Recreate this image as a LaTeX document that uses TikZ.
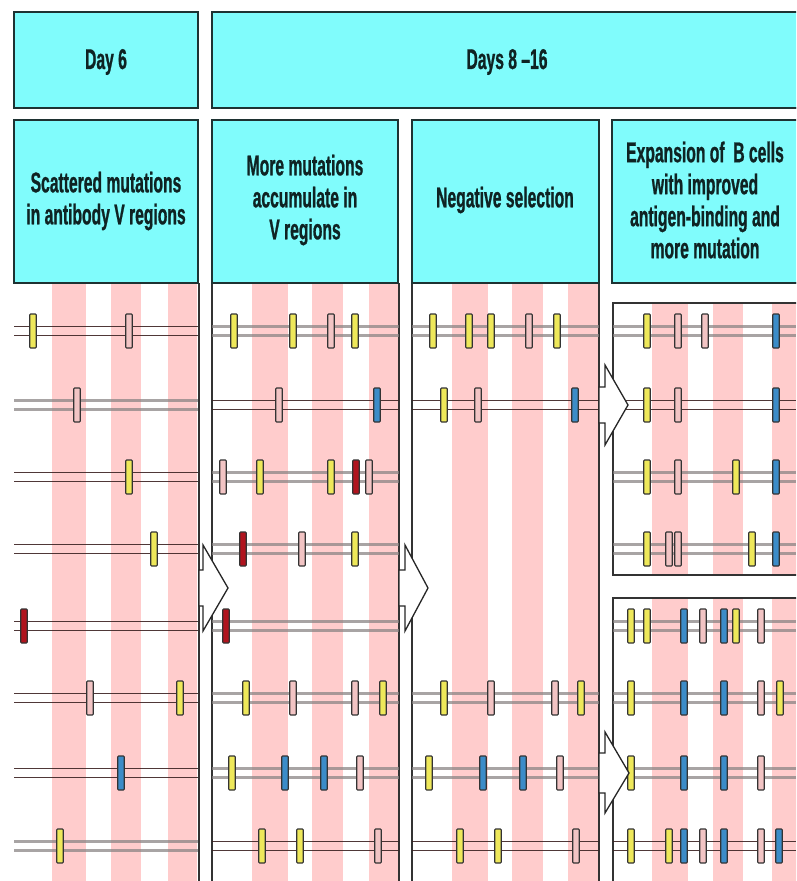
\documentclass[tikz,border=0pt]{standalone}
\usepackage{fontspec}
\newfontfamily\hdfont{Liberation Sans Bold}[FakeStretch=0.55, FakeBold=0.8]
\definecolor{hdcyan}{RGB}{128,252,252}
\definecolor{hdedge}{RGB}{30,50,50}
\definecolor{stripe}{RGB}{255,204,204}
\definecolor{mY}{RGB}{238,232,90}
\definecolor{mP}{RGB}{242,196,196}
\definecolor{mR}{RGB}{176,20,30}
\definecolor{mB}{RGB}{60,140,200}
\definecolor{lnd}{RGB}{60,35,35}
\definecolor{lng}{RGB}{135,130,130}
\definecolor{txt}{RGB}{15,35,35}
\newcommand\dkpair[3]{\draw[dkl] (#1,#3-4.5) -- (#2,#3-4.5); \draw[dkl] (#1,#3+4.5) -- (#2,#3+4.5);}
\newcommand\gypair[3]{\draw[gyl] (#1,#3-4.5) -- (#2,#3-4.5); \draw[gyl] (#1,#3+4.5) -- (#2,#3+4.5);}
\newcommand\mutrow[2]{\foreach \mx/\mc in {#2}{\node[mutbox, fill=\mc] at (\mx,#1) {};}}
\begin{document}
\begin{tikzpicture}[x=1pt,y=-1pt,
 hdbox/.style={fill=hdcyan, draw=hdedge, line width=1.3pt},
 hdbottom/.style={draw=hdedge, line width=2.8pt},
 hdtext/.style={font=\hdfont\fontsize{28.5}{32}\selectfont, text=txt, align=center, inner sep=0pt},
 panel/.style={draw=black!80, line width=1.2pt},
 dkl/.style={draw=lnd, line width=1.9pt, opacity=0.9},
 gyl/.style={draw=lng, line width=3.8pt, opacity=0.72},
 mutbox/.style={draw=black!80, line width=1.1pt, minimum width=6.5pt, minimum height=34pt, inner sep=0pt, rounded corners=0.8pt},
 blockarrow/.style={fill=white, draw=black!85, line width=1.3pt, line join=miter}]
\useasboundingbox (0,0) rectangle (796,881);
\clip (0,0) rectangle (796,881);
\fill[white] (0,0) rectangle (796,881);
% stripes
\foreach \a/\b in {52/86,111/141,168/197,252/288,312/343,369/398,452/488,512/543,568/598}
  {\fill[stripe] (\a,283) rectangle (\b,890);}
\fill[white] (613,303) rectangle (805,575);
\fill[white] (613,598) rectangle (805,890);
\foreach \a/\b in {652/688,713/743,772/805}
  {\fill[stripe] (\a,303) rectangle (\b,575); \fill[stripe] (\a,598) rectangle (\b,890);}
% panel borders
\draw[panel] (199,283) -- (199,890);
\draw[panel] (212,283) -- (212,890);
\draw[panel] (399,283) -- (399,890);
\draw[panel] (412,283) -- (412,890);
\draw[panel] (599,283) -- (599,890);
\draw[panel] (613,303) rectangle (805,575);
\draw[panel] (613,598) rectangle (805,890);
% column 1 genes
\dkpair{14}{198}{331} \gypair{14}{198}{405} \dkpair{14}{198}{477} \dkpair{14}{198}{549}
\dkpair{14}{198}{626} \dkpair{14}{198}{698} \dkpair{14}{198}{773} \gypair{14}{198}{846}
% column 2 genes
\gypair{212}{399}{331} \dkpair{212}{399}{405} \gypair{212}{399}{477} \gypair{212}{399}{549}
\gypair{212}{399}{626} \gypair{212}{399}{698} \gypair{212}{399}{773} \dkpair{212}{399}{846}
% column 3 genes
\gypair{412}{599}{331} \dkpair{412}{599}{405}
\gypair{412}{599}{698} \gypair{412}{599}{773} \dkpair{412}{599}{846}
% column 4 genes
\gypair{613}{796}{331} \dkpair{613}{796}{405} \gypair{613}{796}{477} \gypair{613}{796}{549}
\gypair{613}{796}{626} \gypair{613}{796}{698} \gypair{613}{796}{773} \dkpair{613}{796}{846}
% mutations column 1
\mutrow{331}{33/mY,129/mP}
\mutrow{405}{77/mP}
\mutrow{477}{129/mY}
\mutrow{549}{154/mY}
\mutrow{626}{24/mR}
\mutrow{698}{90/mP,180/mY}
\mutrow{773}{121/mB}
\mutrow{846}{60/mY}
% mutations column 2
\mutrow{331}{234/mY,293/mY,331/mP,355/mY}
\mutrow{405}{279/mP,377/mB}
\mutrow{477}{223/mP,260/mY,331/mY,356/mR,369/mP}
\mutrow{549}{243/mR,302/mP,355/mY}
\mutrow{626}{226/mR}
\mutrow{698}{246/mY,293/mP,355/mP,383/mY}
\mutrow{773}{232/mY,285/mB,324/mB,360/mP}
\mutrow{846}{262/mY,300/mY,378/mP}
% mutations column 3
\mutrow{331}{433/mY,469/mY,491/mY,529/mP,557/mY}
\mutrow{405}{444/mY,478/mP,575/mB}
\mutrow{698}{444/mY,491/mP,555/mP,581/mY}
\mutrow{773}{429/mY,483/mB,523/mB,560/mP}
\mutrow{846}{460/mY,498/mY,576/mP}
% mutations column 4
\mutrow{331}{647/mY,678/mP,705/mP,776/mB}
\mutrow{405}{647/mY,678/mP,776/mB}
\mutrow{477}{647/mY,678/mP,736/mY,776/mB}
\mutrow{549}{647/mY,669/mP,678/mP,752/mY,776/mB}
\mutrow{626}{631/mY,647/mY,684/mB,703/mP,724/mB,736/mY,761/mP}
\mutrow{698}{631/mY,684/mB,724/mB,761/mP,780/mY}
\mutrow{773}{631/mY,684/mB,724/mB,761/mP}
\mutrow{846}{631/mY,669/mY,684/mB,703/mP,724/mB,761/mP,779/mB}
% block arrows
\draw[blockarrow] (199,570) -- (203,570) -- (203,545) -- (228,588) -- (203,631) -- (203,606) -- (199,606) -- cycle;
\draw[blockarrow] (399,570) -- (405,570) -- (405,545) -- (428,588) -- (405,631) -- (405,606) -- (399,606) -- cycle;
\draw[blockarrow] (599,387) -- (605,387) -- (605,365) -- (628,405) -- (605,445) -- (605,423) -- (599,423) -- cycle;
\draw[blockarrow] (599,753) -- (605,753) -- (605,732) -- (629,773) -- (605,813) -- (605,793) -- (599,793) -- cycle;
% header boxes
\draw[hdbox] (14,12) rectangle (198,108);
\draw[hdbottom] (14,108) -- (198,108);
\draw[hdbox] (212,12) rectangle (805,108);
\draw[hdbottom] (212,108) -- (805,108);
\draw[hdbox] (14,120) rectangle (198,283);
\draw[hdbottom] (14,283) -- (198,283);
\draw[hdbox] (212,120) rectangle (398,283);
\draw[hdbottom] (212,283) -- (398,283);
\draw[hdbox] (412,120) rectangle (599,283);
\draw[hdbottom] (412,283) -- (599,283);
\draw[hdbox] (612,120) rectangle (805,283);
\draw[hdbottom] (612,283) -- (805,283);
% header texts
\node[hdtext] (day6) at (106,62) {Day 6};
\node[hdtext] (days) at (507,62) {Days 8 –16};
\node[hdtext] (t1) at (106,201) {Scattered mutations\\in antibody V regions};
\node[hdtext] (t2) at (305,200) {More mutations\\accumulate in\\V regions};
\node[hdtext] (t3) at (505,200) {Negative selection};
\node[hdtext] (t4) at (705,200) {Expansion of\ \ B cells\\with improved\\antigen-binding and\\more mutation};
\end{tikzpicture}
\end{document}
